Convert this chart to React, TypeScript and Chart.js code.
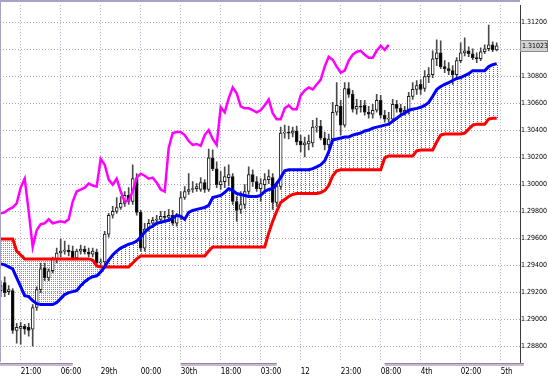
import React, { useEffect, useRef } from 'react';
import { Chart, registerables } from 'chart.js';

Chart.register(...registerables);

// ---- price data (one candle per bar index) ----
const OPEN = [
  1.29211, 1.29270, 1.29204, 1.29211, 1.28917, 1.28932, 1.28947, 1.28939, 1.28925, 1.29086,
  1.29218, 1.29380, 1.29306, 1.29358, 1.29446, 1.29490, 1.29504, 1.29512, 1.29504, 1.29453,
  1.29504, 1.29519, 1.29497, 1.29482, 1.29497, 1.29416, 1.29424, 1.29629, 1.29769, 1.29798,
  1.29827, 1.29857, 1.29916, 1.29871, 1.30040, 1.29791, 1.29526, 1.29666, 1.29710, 1.29732,
  1.29739, 1.29761, 1.29754, 1.29769, 1.29710, 1.29761, 1.29901, 1.29945, 1.29960, 1.29967,
  1.29960, 1.30011, 1.29960, 1.30194, 1.30114, 1.29996, 1.30018, 1.30048, 1.30055, 1.29871,
  1.29813, 1.29849, 1.29945, 1.30070, 1.30018, 1.29967, 1.29996, 1.30033, 1.30048, 1.29864,
  1.29982, 1.30378, 1.30385, 1.30378, 1.30393, 1.30319, 1.30290, 1.30297, 1.30305, 1.30422,
  1.30429, 1.30341, 1.30290, 1.30334, 1.30532, 1.30576, 1.30437, 1.30708, 1.30664, 1.30554,
  1.30576, 1.30583, 1.30532, 1.30517, 1.30547, 1.30620, 1.30510, 1.30481, 1.30481, 1.30591,
  1.30561, 1.30532, 1.30532, 1.30650, 1.30701, 1.30738, 1.30708, 1.30796, 1.30811, 1.30928,
  1.30972, 1.30870, 1.30855, 1.30840, 1.30811, 1.30914, 1.30972, 1.30987, 1.30965, 1.30936,
  1.30928, 1.30980, 1.31002, 1.31031, 1.30994,
];
const HIGH = [
  1.29284, 1.29314, 1.29248, 1.29226, 1.28969, 1.28976, 1.28961, 1.28969, 1.29108, 1.29240,
  1.29416, 1.29416, 1.29372, 1.29460, 1.29526, 1.29593, 1.29578, 1.29549, 1.29541, 1.29519,
  1.29549, 1.29541, 1.29526, 1.29526, 1.29519, 1.29446, 1.29651, 1.29783, 1.29835, 1.29901,
  1.29908, 1.29945, 1.29974, 1.30143, 1.30077, 1.29805, 1.29710, 1.29739, 1.29754, 1.29769,
  1.29798, 1.29798, 1.29813, 1.29805, 1.29783, 1.29945, 1.29982, 1.30077, 1.30018, 1.30004,
  1.30048, 1.30033, 1.30260, 1.30253, 1.30165, 1.30092, 1.30128, 1.30143, 1.30077, 1.29908,
  1.29945, 1.29996, 1.30128, 1.30106, 1.30055, 1.30040, 1.30077, 1.30106, 1.30077, 1.30018,
  1.30422, 1.30437, 1.30429, 1.30422, 1.30429, 1.30363, 1.30349, 1.30363, 1.30473, 1.30488,
  1.30473, 1.30385, 1.30371, 1.30605, 1.30752, 1.30620, 1.30752, 1.30752, 1.30694, 1.30627,
  1.30620, 1.30620, 1.30576, 1.30591, 1.30664, 1.30657, 1.30547, 1.30532, 1.30627, 1.30620,
  1.30591, 1.30576, 1.30679, 1.30752, 1.30767, 1.30774, 1.30840, 1.30862, 1.30987, 1.31068,
  1.31061, 1.30914, 1.30899, 1.30877, 1.30936, 1.31046, 1.31083, 1.31017, 1.31002, 1.30972,
  1.31009, 1.31031, 1.31178, 1.31053, 1.31046,
];
const LOW = [
  1.29167, 1.29167, 1.29182, 1.28895, 1.28822, 1.28815, 1.28888, 1.28873, 1.28800, 1.29064,
  1.29196, 1.29284, 1.29284, 1.29343, 1.29416, 1.29460, 1.29482, 1.29468, 1.29438, 1.29446,
  1.29482, 1.29482, 1.29460, 1.29460, 1.29402, 1.29387, 1.29402, 1.29607, 1.29747, 1.29783,
  1.29813, 1.29835, 1.29849, 1.29849, 1.29769, 1.29504, 1.29504, 1.29651, 1.29681, 1.29703,
  1.29717, 1.29732, 1.29725, 1.29695, 1.29688, 1.29739, 1.29886, 1.29923, 1.29938, 1.29945,
  1.29945, 1.29938, 1.29945, 1.30099, 1.29974, 1.29960, 1.29974, 1.29989, 1.29849, 1.29725,
  1.29783, 1.29820, 1.29923, 1.29982, 1.29945, 1.29871, 1.29945, 1.30004, 1.29813, 1.29835,
  1.29960, 1.30341, 1.30334, 1.30349, 1.30290, 1.30238, 1.30202, 1.30253, 1.30275, 1.30385,
  1.30327, 1.30253, 1.30268, 1.30319, 1.30510, 1.30363, 1.30422, 1.30642, 1.30532, 1.30517,
  1.30532, 1.30510, 1.30488, 1.30488, 1.30532, 1.30488, 1.30459, 1.30459, 1.30466, 1.30532,
  1.30510, 1.30510, 1.30517, 1.30627, 1.30664, 1.30664, 1.30686, 1.30752, 1.30789, 1.30877,
  1.30855, 1.30826, 1.30811, 1.30738, 1.30796, 1.30899, 1.30950, 1.30943, 1.30921, 1.30899,
  1.30914, 1.30965, 1.30987, 1.30980, 1.30987,
];
const CLOSE = [
  1.29248, 1.29196, 1.29218, 1.28917, 1.28939, 1.28947, 1.28925, 1.28917, 1.29086, 1.29218,
  1.29372, 1.29306, 1.29358, 1.29446, 1.29490, 1.29504, 1.29512, 1.29497, 1.29453, 1.29504,
  1.29519, 1.29497, 1.29482, 1.29504, 1.29416, 1.29424, 1.29629, 1.29769, 1.29798, 1.29827,
  1.29857, 1.29916, 1.29871, 1.30040, 1.29791, 1.29526, 1.29666, 1.29710, 1.29732, 1.29739,
  1.29761, 1.29754, 1.29769, 1.29710, 1.29761, 1.29901, 1.29945, 1.29960, 1.29967, 1.29982,
  1.30011, 1.29960, 1.30194, 1.30114, 1.29996, 1.30018, 1.30055, 1.30070, 1.29871, 1.29805,
  1.29849, 1.29945, 1.30070, 1.30018, 1.29967, 1.30004, 1.30033, 1.30055, 1.29864, 1.29982,
  1.30378, 1.30385, 1.30378, 1.30393, 1.30312, 1.30290, 1.30305, 1.30319, 1.30422, 1.30429,
  1.30341, 1.30290, 1.30334, 1.30532, 1.30583, 1.30437, 1.30708, 1.30664, 1.30554, 1.30576,
  1.30569, 1.30532, 1.30517, 1.30547, 1.30620, 1.30510, 1.30481, 1.30488, 1.30591, 1.30561,
  1.30532, 1.30547, 1.30650, 1.30701, 1.30730, 1.30701, 1.30796, 1.30811, 1.30928, 1.30972,
  1.30870, 1.30855, 1.30840, 1.30811, 1.30914, 1.30972, 1.30987, 1.30965, 1.30936, 1.30928,
  1.30980, 1.31002, 1.31031, 1.30994, 1.31023,
];

// ---- Ichimoku lines ----
const SPAN_A = [ // blue
  1.29409, 1.29402, 1.29387, 1.29372, 1.29306, 1.29240, 1.29174, 1.29167, 1.29137, 1.29115,
  1.29108, 1.29108, 1.29108, 1.29108, 1.29123, 1.29152, 1.29182, 1.29196, 1.29204, 1.29211,
  1.29248, 1.29277, 1.29299, 1.29314, 1.29321, 1.29350, 1.29387, 1.29438, 1.29475, 1.29504,
  1.29526, 1.29541, 1.29556, 1.29563, 1.29578, 1.29607, 1.29644, 1.29673, 1.29688, 1.29710,
  1.29717, 1.29725, 1.29732, 1.29747, 1.29769, 1.29761, 1.29739, 1.29791, 1.29805, 1.29813,
  1.29820, 1.29827, 1.29842, 1.29901, 1.29908, 1.29916, 1.29938, 1.29967, 1.29952, 1.29930,
  1.29923, 1.29916, 1.29908, 1.29908, 1.29908, 1.29916, 1.29945, 1.29960, 1.29967, 1.30004,
  1.30048, 1.30099, 1.30106, 1.30106, 1.30106, 1.30106, 1.30106, 1.30106, 1.30114, 1.30128,
  1.30143, 1.30172, 1.30238, 1.30327, 1.30334, 1.30341, 1.30349, 1.30349, 1.30363, 1.30371,
  1.30378, 1.30393, 1.30400, 1.30415, 1.30422, 1.30429, 1.30437, 1.30444, 1.30466, 1.30488,
  1.30510, 1.30525, 1.30547, 1.30554, 1.30561, 1.30569, 1.30583, 1.30605, 1.30650, 1.30701,
  1.30723, 1.30738, 1.30752, 1.30767, 1.30782, 1.30789, 1.30804, 1.30818, 1.30840, 1.30840,
  1.30840, 1.30840, 1.30870, 1.30884, 1.30892,
];
const SPAN_B = [ // red
  1.29593, 1.29593, 1.29593, 1.29593, 1.29504, 1.29475, 1.29446, 1.29446, 1.29446, 1.29446,
  1.29446, 1.29446, 1.29446, 1.29446, 1.29446, 1.29446, 1.29446, 1.29446, 1.29446, 1.29446,
  1.29446, 1.29446, 1.29446, 1.29438, 1.29394, 1.29387, 1.29387, 1.29387, 1.29387, 1.29387,
  1.29387, 1.29387, 1.29387, 1.29416, 1.29446, 1.29468, 1.29468, 1.29468, 1.29468, 1.29468,
  1.29468, 1.29468, 1.29468, 1.29468, 1.29468, 1.29468, 1.29468, 1.29468, 1.29468, 1.29468,
  1.29468, 1.29468, 1.29504, 1.29534, 1.29534, 1.29534, 1.29534, 1.29534, 1.29534, 1.29534,
  1.29534, 1.29534, 1.29534, 1.29534, 1.29534, 1.29534, 1.29534, 1.29637, 1.29725, 1.29798,
  1.29864, 1.29886, 1.29908, 1.29923, 1.29930, 1.29930, 1.29930, 1.29930, 1.29930, 1.29930,
  1.29938, 1.29952, 1.29989, 1.30062, 1.30099, 1.30106, 1.30106, 1.30106, 1.30106, 1.30106,
  1.30106, 1.30106, 1.30106, 1.30106, 1.30106, 1.30106, 1.30194, 1.30209, 1.30209, 1.30209,
  1.30209, 1.30209, 1.30209, 1.30209, 1.30246, 1.30253, 1.30253, 1.30253, 1.30253, 1.30312,
  1.30363, 1.30371, 1.30371, 1.30371, 1.30371, 1.30371, 1.30378, 1.30407, 1.30437, 1.30444,
  1.30444, 1.30444, 1.30481, 1.30488, 1.30488,
];
const CHIKOU = [ // magenta, lagging span
  1.29783, 1.29791, 1.29813, 1.29827, 1.29857, 1.29974, 1.30040, 1.29798, 1.29534, 1.29659,
  1.29703, 1.29710, 1.29739, 1.29710, 1.29717, 1.29725, 1.29717, 1.29739, 1.29871, 1.29945,
  1.29960, 1.29974, 1.30004, 1.29989, 1.29982, 1.30187, 1.30143, 1.30033, 1.29996, 1.30040,
  1.29945, 1.29871, 1.29879, 1.29945, 1.30048, 1.30077, 1.30062, 1.30040, 1.30048, 1.30011,
  1.29960, 1.29945, 1.30268, 1.30378, 1.30385, 1.30385, 1.30363, 1.30319, 1.30290, 1.30297,
  1.30283, 1.30363, 1.30400, 1.30334, 1.30290, 1.30569, 1.30532, 1.30635, 1.30716, 1.30672,
  1.30576, 1.30561, 1.30561, 1.30547, 1.30532, 1.30547, 1.30583, 1.30627, 1.30525, 1.30481,
  1.30481, 1.30561, 1.30583, 1.30554, 1.30554, 1.30657, 1.30694, 1.30716, 1.30701, 1.30738,
  1.30774, 1.30870, 1.30943, 1.30921, 1.30870, 1.30826, 1.30840, 1.30914, 1.30958, 1.30980,
  1.30987, 1.30958, 1.30936, 1.30936, 1.30987, 1.31024, 1.30994, 1.31031,
];

// ---- axes ----
const X_TICK_INDEX = [5, 15, 25, 35, 45, 55, 65, 75, 85, 95, 105, 115, 125];
const X_TICK_LABELS = ['21:00', '06:00', '29th', '00:00', '30th', '18:00', '03:00', '12', '23:00', '08:00', '4th', '02:00', '5th'];
const Y_TICKS = [1.288, 1.29, 1.292, 1.294, 1.296, 1.298, 1.3, 1.302, 1.304, 1.306, 1.308, 1.31, 1.312];
const CURRENT_PRICE = 1.31023;
const AXIS_BANDS = [[-0.2, 18], [45, 69], [96, 131]];

const FONT_FAMILY = "'Liberation Sans Narrow', 'Arial Narrow', 'DejaVu Sans Condensed', 'Liberation Sans', Arial, sans-serif";
const FONT_SIZE = 7;

export default function App() {
  const ref = useRef<HTMLCanvasElement>(null);

  useEffect(() => {
    document.body.style.margin = '0';
    document.body.style.background = '#ffffff';
    const canvas = ref.current;
    if (!canvas) return;

    const idx = CLOSE.map((_, i) => i);
    const wickData = idx.map((i) => ({ x: i, y: [LOW[i], HIGH[i]] }));
    const bodyData = idx.map((i) => ({ x: i, y: [OPEN[i], CLOSE[i]] }));
    const bodyFill = idx.map((i) => (CLOSE[i] >= OPEN[i] ? '#ffffff' : '#000000'));
    const toPts = (arr: number[]) => arr.map((v, i) => ({ x: i, y: v }));

    // dotted vertical hatching of the cloud between the two spans
    const cloudPlugin = {
      id: 'cloudHatch',
      beforeDatasetsDraw(chart: any) {
        const { ctx, chartArea, scales } = chart;
        const xs = scales.x;
        const ys = scales.y;
        ctx.save();
        const n = Math.min(SPAN_A.length, SPAN_B.length);
        for (let i = 0; i < n; i++) {
          const ya = ys.getPixelForValue(SPAN_A[i]);
          const yb = ys.getPixelForValue(SPAN_B[i]);
          const up = SPAN_A[i] >= SPAN_B[i];
          const top = Math.round(Math.min(ya, yb));
          const bot = Math.round(Math.max(ya, yb));
          const offsets = up ? [0] : [0, 0.5];
          ctx.fillStyle = up ? '#5a5af5' : '#f56464';
          for (const o of offsets) {
            const px = Math.round(xs.getPixelForValue(i + o));
            if (px < chartArea.left || px >= chartArea.right) continue;
            for (let yy = top + ((top + px) % 2); yy < bot; yy += 2) {
              ctx.fillRect(px, yy, 1, 1);
            }
          }
        }
        ctx.restore();
      },
    };

    const overlayPlugin = {
      id: 'overlay',
      afterDraw(chart: any) {
        const { ctx, chartArea, scales } = chart;
        const xs = scales.x;
        const ys = scales.y;
        ctx.save();
        // frame strips
        ctx.fillStyle = '#aaa2c6';
        ctx.fillRect(0, 0, chartArea.right, 2);
        ctx.fillRect(0, 0, 1, chartArea.bottom);
        // bands under the time axis
        for (const [a, b] of AXIS_BANDS) {
          const x1 = Math.max(0, xs.getPixelForValue(a));
          const x2 = Math.min(chart.width - 24, xs.getPixelForValue(b));
          ctx.fillStyle = '#c9b9cf';
          ctx.fillRect(x1, chartArea.bottom + 1, x2 - x1, 3);
          ctx.fillStyle = '#8e86a8';
          ctx.fillRect(x1, chartArea.bottom + 1, x2 - x1, 1);
        }
        // current price box
        const py = Math.round(ys.getPixelForValue(CURRENT_PRICE));
        ctx.fillStyle = '#d2d2d2';
        ctx.fillRect(chartArea.right, py - 6, 28, 12);
        ctx.strokeStyle = '#8a8a8a';
        ctx.lineWidth = 1;
        ctx.strokeRect(chartArea.right + 0.5, py - 5.5, 27, 11);
        ctx.fillStyle = '#000000';
        ctx.font = `${FONT_SIZE}px ${FONT_FAMILY}`;
        ctx.textBaseline = 'middle';
        ctx.textAlign = 'left';
        ctx.fillText(CURRENT_PRICE.toFixed(5), chartArea.right + 2, py + 0.5);
        ctx.restore();
      },
    };

    const chart = new Chart(canvas, {
      type: 'bar',
      data: {
        datasets: [
          {
            type: 'line',
            data: toPts(CHIKOU),
            borderColor: '#ff00ff',
            borderWidth: 2.5,
            pointRadius: 0,
            tension: 0,
            fill: false,
          },
          {
            type: 'line',
            data: toPts(SPAN_A),
            borderColor: '#0000ff',
            borderWidth: 3,
            pointRadius: 0,
            tension: 0,
            fill: false,
          },
          {
            type: 'line',
            data: toPts(SPAN_B),
            borderColor: '#ff0000',
            borderWidth: 3,
            pointRadius: 0,
            tension: 0,
            fill: false,
          },
          {
            type: 'bar',
            data: bodyData,
            backgroundColor: bodyFill,
            borderColor: '#1e1e1e',
            borderWidth: 1,
            borderSkipped: false,
            barThickness: 3,
            grouped: false,
            minBarLength: 1,
          },
          {
            type: 'bar',
            data: wickData,
            backgroundColor: '#4a4a4a',
            borderWidth: 0,
            barThickness: 1,
            grouped: false,
          },
        ] as any,
      },
      options: {
        responsive: false,
        animation: false,
        devicePixelRatio: 1,
        events: [],
        layout: { padding: { top: 2, left: 0, right: 0, bottom: 0 } },
        plugins: { legend: { display: false }, tooltip: { enabled: false } },
        scales: {
          x: {
            type: 'linear',
            min: -0.175,
            max: 129.825,
            offset: false,
            afterFit: (s: any) => { s.height = 17; },
            afterBuildTicks: (s: any) => { s.ticks = X_TICK_INDEX.map((v) => ({ value: v })); },
            ticks: {
              autoSkip: false,
              maxRotation: 0,
              align: 'start',
              padding: 5,
              color: '#000000',
              font: { family: FONT_FAMILY, size: FONT_SIZE + 1 },
              callback: (_v: any, i: number) => X_TICK_LABELS[i],
            },
            grid: { offset: false, drawTicks: false, color: '#b4a6c0', lineWidth: 1 },
            border: { display: false, dash: [1, 2] },
          },
          y: {
            type: 'linear',
            position: 'right',
            min: 1.286826,
            max: 1.313248,
            beginAtZero: false,
            afterFit: (s: any) => { s.width = 28; },
            afterBuildTicks: (s: any) => { s.ticks = Y_TICKS.map((v) => ({ value: v })); },
            ticks: {
              autoSkip: false,
              padding: 1,
              color: '#000000',
              font: { family: FONT_FAMILY, size: FONT_SIZE },
              callback: (v: any) => (Math.abs(Number(v) - 1.31) < 1e-9 ? '' : Number(v).toFixed(5)),
            },
            grid: { drawTicks: false, color: '#b4a6c0', lineWidth: 1 },
            border: { display: true, color: '#3a3a3a', width: 1, dash: [1, 2] },
          },
        },
      } as any,
      plugins: [cloudPlugin, overlayPlugin],
    });

    return () => chart.destroy();
  }, []);

  return (
    <div style={{ width: 548, height: 379, position: 'relative', background: '#ffffff' }}>
      <canvas ref={ref} width={548} height={379} style={{ display: 'block' }} />
    </div>
  );
}
